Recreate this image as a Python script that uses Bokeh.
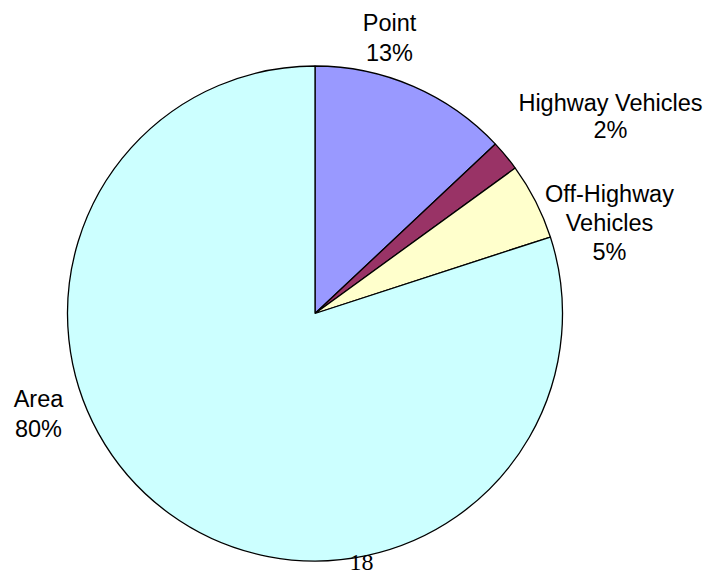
import math
from bokeh.plotting import figure
from bokeh.models import Range1d, ColumnDataSource
from bokeh.core.properties import value
from bokeh.embed import file_html
from bokeh.resources import INLINE

# ---- data ----
categories = ["Point", "Highway Vehicles", "Off-Highway Vehicles", "Area"]
shares = [13, 2, 5, 80]
pct_labels = ["13%", "2%", "5%", "80%"]
colors = ["#9999FF", "#993366", "#FFFFCC", "#CCFFFF"]
page_number = "18"

# ---- layout (screen pixel coordinates of the page) ----
W, H = 707, 575
def sy(y):  # screen y -> data y
    return H - y

cx, cy, r = 314.5, sy(313), 247.5

total = float(sum(shares))
starts, ends = [], []
cum = 0.0
for v in shares:
    starts.append(math.pi / 2 - 2 * math.pi * cum / total)
    cum += v
    ends.append(math.pi / 2 - 2 * math.pi * cum / total)

p = figure(width=W, height=H, output_backend="svg", toolbar_location=None,
           x_range=Range1d(0, W), y_range=Range1d(0, H),
           min_border=0, outline_line_color=None)
p.axis.visible = False
p.grid.visible = False
p.background_fill_color = "white"

src = ColumnDataSource(dict(start=starts, end=ends, color=colors, name=categories))
p.wedge(x=cx, y=cy, radius=r, start_angle="start", end_angle="end",
        direction="clock", fill_color="color", line_color="black",
        line_width=1.3, source=src)

# label line layout: (name lines, center x, line center ys)
label_layout = [
    (["Point"], 389, [22, 52]),
    (["Highway Vehicles"], 610, [102, 129]),
    (["Off-Highway", "Vehicles"], 609, [193, 222, 251]),
    (["Area"], 38, [398, 428]),
]
xs, ys, txt = [], [], []
for i, (name_lines, x, line_ys) in enumerate(label_layout):
    lines = name_lines + [pct_labels[i]]
    for t, yy in zip(lines, line_ys):
        xs.append(x)
        ys.append(sy(yy))
        txt.append(t)

p.text(x=xs, y=ys, text=txt, text_font=value("Liberation Sans"),
       text_font_size="23.5px", text_align="center", text_baseline="middle",
       text_color="black")

p.text(x=[361], y=[sy(562)], text=[page_number], text_font=value("Liberation Serif"),
       text_font_size="24px", text_align="center", text_baseline="middle",
       text_color="black")

open("out.html", "w").write(file_html(p, INLINE))
